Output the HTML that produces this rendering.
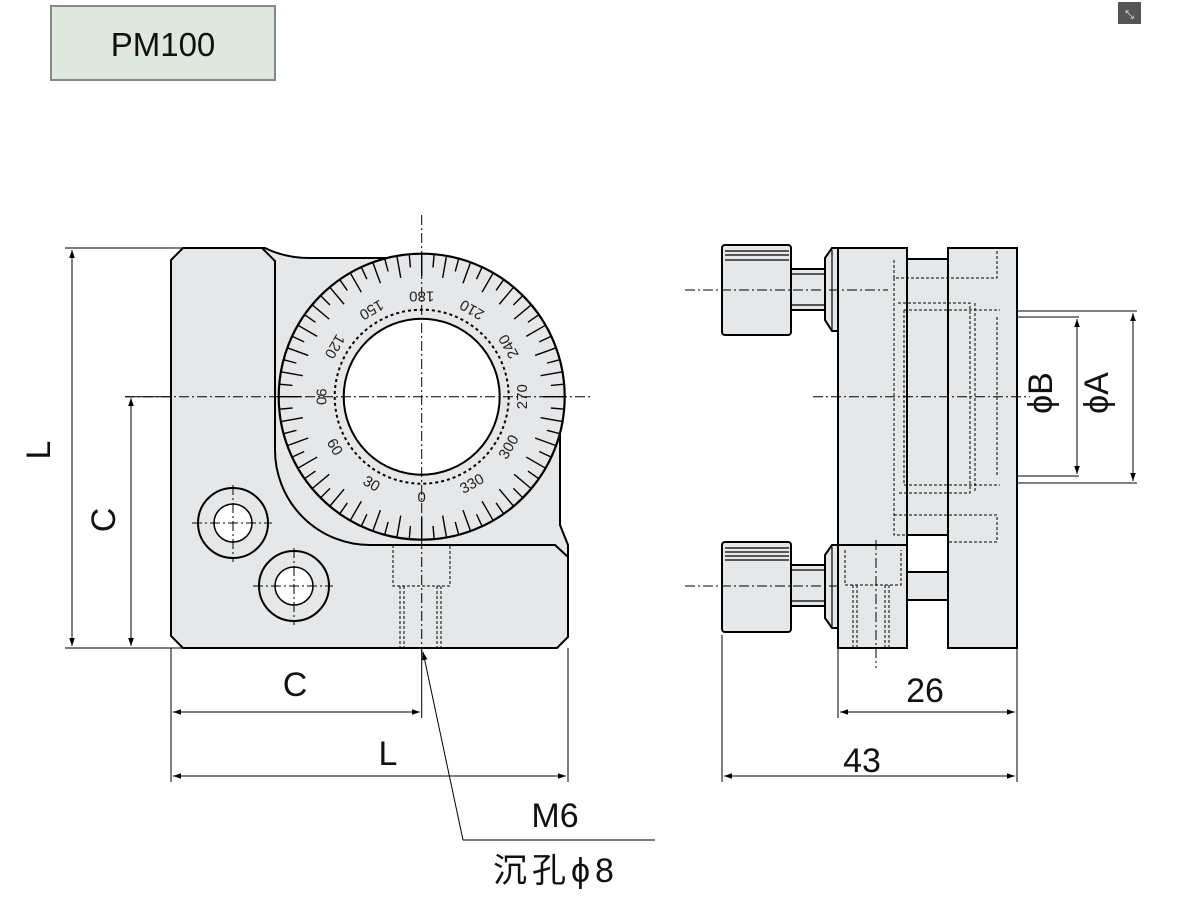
<!DOCTYPE html>
<html><head><meta charset="utf-8"><style>
html,body{margin:0;padding:0;background:#fff;width:1181px;height:900px;overflow:hidden}
svg{display:block}
text{font-family:"Liberation Sans","Noto Sans CJK SC",sans-serif}
</style></head><body>
<svg width="1181" height="900" viewBox="0 0 1181 900" xmlns="http://www.w3.org/2000/svg">
<defs>
<marker id="ar" viewBox="0 0 10 10" refX="10" refY="5" markerWidth="14" markerHeight="8" markerUnits="userSpaceOnUse" orient="auto-start-reverse"><path d="M0,1.5 L10,5 L0,8.5 Z" fill="#000"/></marker>
<g id="t10"><line x1="421.7" y1="253.7" x2="421.7" y2="276" /><line x1="421.7" y1="253.7" x2="421.7" y2="267" transform="rotate(5 421.7 396.7)"/></g>
<g id="t30"><use href="#t10"/><use href="#t10" transform="rotate(10 421.7 396.7)"/><use href="#t10" transform="rotate(20 421.7 396.7)"/></g>
</defs>
<rect x="51" y="6" width="224" height="74" fill="#dfe8df" stroke="#888" stroke-width="2"/>
<text x="163" y="56" font-size="33" text-anchor="middle" fill="#111">PM100</text>
<rect x="1118" y="2" width="23" height="22" fill="#555"/>
<text x="1129.5" y="18" font-size="11" text-anchor="middle" fill="#fff">⤡</text>

<g stroke="#000" fill="none">
<path d="M183,248 L265,248 Q285,258 310,258 L421,258 L421,396 L560,396 L560,525 L568,545 L568,637 L557,648 L183,648 L171,636 L171,260 Z" fill="#e6e7e9" stroke-width="2"/>
<path d="M262,248 L275,261 L275,450 A95,95 0 0 0 370,545 L555,545 L568,557" stroke-width="2"/>
<circle cx="421.7" cy="396.7" r="143" fill="#e6e7e9" stroke-width="2.2"/>
<g stroke-width="1.4">
<use href="#t30"/><use href="#t30" transform="rotate(30 421.7 396.7)"/><use href="#t30" transform="rotate(60 421.7 396.7)"/><use href="#t30" transform="rotate(90 421.7 396.7)"/><use href="#t30" transform="rotate(120 421.7 396.7)"/><use href="#t30" transform="rotate(150 421.7 396.7)"/><use href="#t30" transform="rotate(180 421.7 396.7)"/><use href="#t30" transform="rotate(210 421.7 396.7)"/><use href="#t30" transform="rotate(240 421.7 396.7)"/><use href="#t30" transform="rotate(270 421.7 396.7)"/><use href="#t30" transform="rotate(300 421.7 396.7)"/><use href="#t30" transform="rotate(330 421.7 396.7)"/>
</g>
<circle cx="421.7" cy="396.7" r="87" stroke-width="2" stroke-dasharray="3,3"/>
<circle cx="421.7" cy="396.7" r="78" fill="#fff" stroke-width="2"/>
<circle cx="233" cy="523" r="35" stroke-width="2"/><circle cx="233" cy="523" r="19" fill="#fff" stroke-width="1.5"/>
<circle cx="294" cy="586" r="35" stroke-width="2"/><circle cx="294" cy="586" r="19" fill="#fff" stroke-width="1.5"/>
<g stroke-width="1" stroke-dasharray="10,3,2,3">
<line x1="192" y1="523" x2="272" y2="523"/><line x1="233" y1="485" x2="233" y2="562"/>
<line x1="253" y1="586" x2="333" y2="586"/><line x1="294" y1="548" x2="294" y2="625"/>
<line x1="421.7" y1="215" x2="421.7" y2="655"/>
<line x1="125" y1="396.7" x2="590" y2="396.7"/>
</g>
<path d="M393,545 V586 H450 V545 M400,586 V648 M404,586 V648 M437,586 V648 M441,586 V648" stroke-width="1" stroke-dasharray="3,2"/>

<g fill="#e6e7e9" stroke-width="2">
<rect x="838" y="248" width="69" height="400"/>
<rect x="907" y="259" width="41" height="276"/>
<rect x="907" y="572" width="41" height="28"/>
<rect x="948" y="248" width="69" height="400"/>
<line x1="838" y1="545" x2="907" y2="545"/>
<rect x="791" y="269" width="34" height="41"/>
<rect x="791" y="565" width="34" height="41"/>
<path d="M825,258 L832,248 L838,248 L838,331 L832,331 L825,320 Z"/>
<path d="M825,555 L832,545 L838,545 L838,628 L832,628 L825,618 Z"/>
<rect x="722" y="245" width="69" height="90" rx="3"/>
<rect x="722" y="542" width="69" height="90" rx="3"/>
</g>
<g stroke-width="1.2">
<line x1="832" y1="250" x2="832" y2="330"/><line x1="832" y1="547" x2="832" y2="627"/>
<line x1="791" y1="274" x2="825" y2="274"/><line x1="791" y1="305" x2="825" y2="305"/>
<line x1="791" y1="570" x2="825" y2="570"/><line x1="791" y1="601" x2="825" y2="601"/>
<line x1="725" y1="251" x2="789" y2="251"/><line x1="725" y1="255" x2="789" y2="255"/><line x1="725" y1="260" x2="789" y2="260"/>
<line x1="725" y1="548" x2="789" y2="548"/><line x1="725" y1="552" x2="789" y2="552"/><line x1="725" y1="556" x2="789" y2="556"/><line x1="725" y1="560" x2="789" y2="560"/>
</g>
<g stroke-width="1" stroke-dasharray="3,2">
<path d="M997,251 V278 H894 V259 M894,278 V535 H907"/>
<path d="M894,515 H997 V542 H948"/>
<path d="M898,303 H970 V493 H898 M904,310 V485 M904,310 H1000 M904,485 H1000 M975,303 V493 M997,317 V476"/>
<path d="M845,550 V585 H901 V550 M853,585 V648 M857,585 V648 M885,585 V648 M889,585 V648"/>
</g>
<g stroke-width="1" stroke-dasharray="10,3,2,3">
<line x1="685" y1="290" x2="888" y2="290"/>
<line x1="685" y1="586" x2="838" y2="586"/>
<line x1="813" y1="396.7" x2="1030" y2="396.7"/>
<line x1="876" y1="540" x2="876" y2="668"/>
</g>

<g stroke-width="1">
<line x1="65" y1="248" x2="183" y2="248"/><line x1="65" y1="648" x2="183" y2="648"/>
<line x1="72" y1="250" x2="72" y2="646" marker-start="url(#ar)" marker-end="url(#ar)"/>
<line x1="125" y1="396.7" x2="171" y2="396.7"/>
<line x1="131" y1="398" x2="131" y2="646" marker-start="url(#ar)" marker-end="url(#ar)"/>
<line x1="171" y1="648" x2="171" y2="782"/><line x1="421.7" y1="650" x2="421.7" y2="718"/><line x1="568" y1="648" x2="568" y2="782"/>
<line x1="173" y1="712" x2="420" y2="712" marker-start="url(#ar)" marker-end="url(#ar)"/>
<line x1="173" y1="776" x2="566" y2="776" marker-start="url(#ar)" marker-end="url(#ar)"/>
<line x1="722" y1="635" x2="722" y2="782"/><line x1="838" y1="648" x2="838" y2="718"/><line x1="1017" y1="648" x2="1017" y2="782"/>
<line x1="840" y1="712" x2="1015" y2="712" marker-start="url(#ar)" marker-end="url(#ar)"/>
<line x1="724" y1="776" x2="1015" y2="776" marker-start="url(#ar)" marker-end="url(#ar)"/>
<line x1="1017" y1="311" x2="1137" y2="311"/><line x1="1017" y1="483" x2="1137" y2="483"/>
<line x1="1017" y1="317" x2="1079" y2="317"/><line x1="1017" y1="476" x2="1079" y2="476"/>
<line x1="1133" y1="313" x2="1133" y2="481" marker-start="url(#ar)" marker-end="url(#ar)"/>
<line x1="1077" y1="319" x2="1077" y2="474" marker-start="url(#ar)" marker-end="url(#ar)"/>
<polyline points="463,840 655,840"/>
<line x1="463" y1="840" x2="423" y2="652" marker-end="url(#ar)"/>
</g>
</g>

<g font-size="15" fill="#222" text-anchor="middle">
<text x="421.7" y="502" transform="rotate(0 421.7 396.7)">0</text>
<text x="421.7" y="502" transform="rotate(30 421.7 396.7)">30</text>
<text x="421.7" y="502" transform="rotate(60 421.7 396.7)">60</text>
<text x="421.7" y="502" transform="rotate(90 421.7 396.7)">90</text>
<text x="421.7" y="502" transform="rotate(120 421.7 396.7)">120</text>
<text x="421.7" y="502" transform="rotate(150 421.7 396.7)">150</text>
<text x="421.7" y="502" transform="rotate(180 421.7 396.7)">180</text>
<text x="421.7" y="502" transform="rotate(210 421.7 396.7)">210</text>
<text x="421.7" y="502" transform="rotate(240 421.7 396.7)">240</text>
<text x="421.7" y="502" transform="rotate(270 421.7 396.7)">270</text>
<text x="421.7" y="502" transform="rotate(300 421.7 396.7)">300</text>
<text x="421.7" y="502" transform="rotate(330 421.7 396.7)">330</text>
</g>

<g font-size="34" fill="#111" text-anchor="middle">
<text x="62" y="462" transform="rotate(-90 50 462)">L</text>
<text x="127" y="532" transform="rotate(-90 115 532)">C</text>
<text x="295" y="696">C</text>
<text x="388" y="765">L</text>
<text x="925" y="702">26</text>
<text x="862" y="772">43</text>
<text x="1064" y="405" transform="rotate(-90 1052 405)">ϕB</text>
<text x="1120" y="405" transform="rotate(-90 1108 405)">ϕA</text>
<text x="555" y="827">M6</text>
<text x="556" y="882" letter-spacing="5">沉孔ϕ8</text>
</g>
</svg>
</body></html>
